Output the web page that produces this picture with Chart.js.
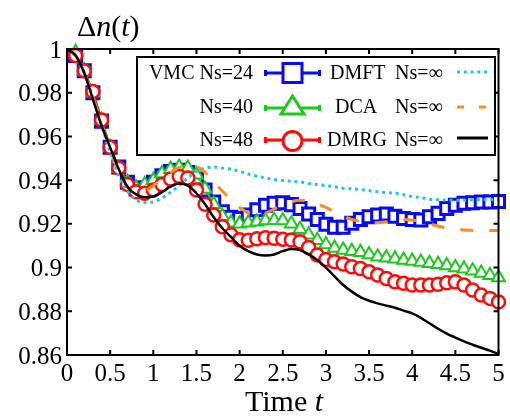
<!DOCTYPE html>
<html>
<head>
<meta charset="utf-8">
<script src="https://cdn.jsdelivr.net/npm/chart.js"></script>
<style>
  body { margin: 0; background: #fff; }
  canvas { display: block; }
</style>
</head>
<body>
<canvas id="myChart" width="510" height="416"></canvas>
<script>
// time grid (every 0.1)
const times = [0, 0.1, 0.2, 0.3, 0.4, 0.5, 0.6, 0.7, 0.8, 0.9, 1.0,
  1.1, 1.2, 1.3, 1.4, 1.5, 1.6, 1.7, 1.8, 1.9, 2.0,
  2.1, 2.2, 2.3, 2.4, 2.5, 2.6, 2.7, 2.8, 2.9, 3.0,
  3.1, 3.2, 3.3, 3.4, 3.5, 3.6, 3.7, 3.8, 3.9, 4.0,
  4.1, 4.2, 4.3, 4.4, 4.5, 4.6, 4.7, 4.8, 4.9, 5.0];

// VMC Ns=24
const vmc24 = [null,
  0.997, 0.990, 0.980, 0.967, 0.955, 0.946, 0.939, 0.936, 0.9365, 0.939,
  0.942, 0.944, 0.9445, 0.9435, 0.9405, 0.9355, 0.930, 0.9255, 0.923, 0.9225,
  0.924, 0.9265, 0.9285, 0.9294, 0.9297, 0.9288, 0.927, 0.9245, 0.922, 0.9198,
  0.9185, 0.9184, 0.9203, 0.922, 0.9232, 0.924, 0.9245, 0.9235, 0.9225, 0.922,
  0.9218, 0.9232, 0.9248, 0.927, 0.9285, 0.9294, 0.9297, 0.930, 0.930, 0.9302];

// VMC Ns=40
const vmc40 = [null,
  0.9985, 0.990, 0.980, 0.9675, 0.955, 0.9455, 0.939, 0.9365, 0.938, 0.940,
  0.943, 0.945, 0.946, 0.9455, 0.9425, 0.936, 0.929, 0.9235, 0.9205, 0.920,
  0.9205, 0.921, 0.9215, 0.9217, 0.9215, 0.920, 0.9175, 0.915, 0.9125, 0.9105,
  0.909, 0.908, 0.9075, 0.907, 0.906, 0.905, 0.9045, 0.904, 0.9035, 0.903,
  0.9025, 0.902, 0.9015, 0.901, 0.900, 0.8995, 0.8985, 0.8975, 0.8965, 0.8955];

// VMC Ns=48
const vmc48 = [null,
  0.997, 0.990, 0.9805, 0.9675, 0.955, 0.9455, 0.938, 0.9347, 0.934, 0.9355,
  0.938, 0.9405, 0.9418, 0.941, 0.9355, 0.929, 0.924, 0.9187, 0.915, 0.9127,
  0.9125, 0.9132, 0.9137, 0.9134, 0.913, 0.9126, 0.9118, 0.9092, 0.9058, 0.9037,
  0.9027, 0.9016, 0.9004, 0.8996, 0.8981, 0.8966, 0.895, 0.8935, 0.8928, 0.892,
  0.892, 0.892, 0.8924, 0.893, 0.8935, 0.892, 0.8897, 0.8874, 0.8859, 0.8843];

// DMFT Ns=inf
const dmft = [1.0, 0.997, 0.989, 0.978, 0.965, 0.953, 0.942, 0.935, 0.931, 0.9297, 0.930,
  0.9318, 0.9345, 0.9375, 0.941, 0.944, 0.9455, 0.946, 0.9455, 0.945, 0.944,
  0.9428, 0.9418, 0.941, 0.9403, 0.9398, 0.9395, 0.9392, 0.9385, 0.938, 0.9375,
  0.937, 0.9363, 0.936, 0.9357, 0.9352, 0.9347, 0.9343, 0.934, 0.9333, 0.9325,
  0.932, 0.9313, 0.931, 0.9308, 0.9308, 0.9308, 0.931, 0.931, 0.9312, 0.9312];

// DCA Ns=inf
const dca = [1.0, 0.997, 0.989, 0.978, 0.966, 0.954, 0.944, 0.937, 0.9345, 0.935, 0.9375,
  0.9405, 0.9435, 0.9458, 0.947, 0.9462, 0.9435, 0.9395, 0.935, 0.931, 0.9275,
  0.925, 0.924, 0.9248, 0.9268, 0.9288, 0.9302, 0.9308, 0.9305, 0.9292, 0.9275,
  0.9255, 0.9235, 0.922, 0.9212, 0.9207, 0.9205, 0.921, 0.9217, 0.922, 0.9218,
  0.921, 0.920, 0.919, 0.918, 0.9175, 0.9172, 0.917, 0.917, 0.917, 0.917];

// DMRG Ns=inf
const dmrg = [1.0, 0.997, 0.989, 0.977, 0.965, 0.955, 0.945, 0.937, 0.9335, 0.9322, 0.9325,
  0.9345, 0.937, 0.9385, 0.9375, 0.934, 0.929, 0.923, 0.918, 0.914, 0.910,
  0.9075, 0.906, 0.9055, 0.906, 0.9075, 0.9085, 0.908, 0.906, 0.9035, 0.900,
  0.896, 0.892, 0.889, 0.8865, 0.8848, 0.8836, 0.8826, 0.8816, 0.8803, 0.879,
  0.877, 0.8745, 0.872, 0.8698, 0.868, 0.8662, 0.8647, 0.8633, 0.862, 0.8605];

const xTicks = [0, 0.5, 1, 1.5, 2, 2.5, 3, 3.5, 4, 4.5, 5];
const xTickLabels = ['0', '0.5', '1', '1.5', '2', '2.5', '3', '3.5', '4', '4.5', '5'];
const yTicks = [0.86, 0.88, 0.9, 0.92, 0.94, 0.96, 0.98, 1];
const yTickLabels = ['0.86', '0.88', '0.9', '0.92', '0.94', '0.96', '0.98', '1'];

const vmcLabels = ['VMC Ns=24', 'Ns=40', 'Ns=48'];
const refLabels = ['DMFT', 'DCA', 'DMRG'];
const infLabel = 'Ns=\u221E';

const BLUE = '#0a0af0', GREEN = '#1ec81e', RED = '#ff0a0a';
const CYAN = '#1ec3f5', ORANGE = '#ff8c1e';
const SERIF = "'Liberation Serif', 'DejaVu Serif', serif";

const pts = ys => ys.map((y, i) => ({ x: times[i], y: y }));

// frame, inward ticks, tick labels, legend and axis titles
const frame = {
  id: 'frame',
  afterDatasetsDraw(chart) {
    const { ctx, chartArea: a, scales: { x, y } } = chart;
    ctx.save();
    ctx.strokeStyle = '#000';
    ctx.lineWidth = 2;
    ctx.strokeRect(a.left, a.top, a.right - a.left, a.bottom - a.top);
    ctx.beginPath();
    xTicks.forEach(v => {
      const px = x.getPixelForValue(v);
      ctx.moveTo(px, a.bottom); ctx.lineTo(px, a.bottom - 5);
      ctx.moveTo(px, a.top); ctx.lineTo(px, a.top + 5);
    });
    yTicks.forEach(v => {
      const py = y.getPixelForValue(v);
      ctx.moveTo(a.left, py); ctx.lineTo(a.left + 5, py);
      ctx.moveTo(a.right, py); ctx.lineTo(a.right - 5, py);
    });
    ctx.stroke();

    // tick labels
    ctx.fillStyle = '#000';
    ctx.font = '25px ' + SERIF;
    ctx.textBaseline = 'alphabetic';
    ctx.textAlign = 'center';
    xTicks.forEach((v, i) => ctx.fillText(xTickLabels[i], x.getPixelForValue(v), 381));
    ctx.textAlign = 'right';
    yTicks.forEach((v, i) => ctx.fillText(yTickLabels[i], a.left - 5, y.getPixelForValue(v) + 8.5));

    // legend box
    ctx.fillStyle = '#fff';
    ctx.fillRect(137, 57, 358, 98);
    ctx.strokeRect(137, 57, 358, 98);

    const rows = [73, 108, 140];
    const base = [79, 113, 146];
    ctx.fillStyle = '#000';
    ctx.font = '20px ' + SERIF;
    ctx.textAlign = 'right';
    vmcLabels.forEach((t, i) => ctx.fillText(t, 253, base[i]));
    ctx.textAlign = 'left';
    const nameX = [330, 335, 327];
    refLabels.forEach((t, i) => {
      ctx.fillText(t, nameX[i], base[i]);
      ctx.fillText(infLabel, 395, base[i]);
    });

    // VMC legend samples
    const cols = [BLUE, GREEN, RED];
    cols.forEach((c, i) => {
      const yy = rows[i];
      ctx.strokeStyle = c;
      ctx.fillStyle = c;
      ctx.lineWidth = 3;
      ctx.beginPath();
      ctx.moveTo(265, yy); ctx.lineTo(320, yy);
      ctx.stroke();
      ctx.fillRect(264, yy - 3, 3, 6);
      ctx.fillRect(318, yy - 3, 3, 6);
      ctx.fillStyle = '#fff';
      ctx.beginPath();
      if (i === 0) {
        ctx.rect(283, yy - 9.5, 19, 19);
      } else if (i === 1) {
        ctx.moveTo(292.5, yy - 12);
        ctx.lineTo(304, yy + 6);
        ctx.lineTo(281, yy + 6);
        ctx.closePath();
      } else {
        ctx.arc(292.5, yy + 1, 9.5, 0, Math.PI * 2);
      }
      ctx.fill();
      ctx.stroke();
    });

    // reference legend samples
    const lineSample = (color, dash, yy) => {
      ctx.strokeStyle = color;
      ctx.lineWidth = 3;
      ctx.setLineDash(dash);
      ctx.beginPath();
      ctx.moveTo(457, yy); ctx.lineTo(488, yy);
      ctx.stroke();
      ctx.setLineDash([]);
    };
    lineSample(CYAN, [3, 3.8], 72);
    lineSample(ORANGE, [7, 15], 107);
    lineSample('#000', [], 138);

    // axis titles
    ctx.fillStyle = '#000';
    ctx.textAlign = 'left';
    const parts = [['\u0394', ''], ['n', 'italic '], ['(', ''], ['t', 'italic '], [')', '']];
    let tx = 77;
    parts.forEach(([s, st]) => {
      ctx.font = st + '30px ' + SERIF;
      ctx.fillText(s, tx, 36);
      tx += ctx.measureText(s).width;
    });
    ctx.font = '30px ' + SERIF;
    const w1 = ctx.measureText('Time ').width;
    ctx.font = 'italic 30px ' + SERIF;
    const w2 = ctx.measureText('t').width;
    const sx = 284 - (w1 + w2) / 2;
    ctx.font = '30px ' + SERIF;
    ctx.fillText('Time ', sx, 411);
    ctx.font = 'italic 30px ' + SERIF;
    ctx.fillText('t', sx + w1, 411);
    ctx.restore();
  }
};

const ctx = document.getElementById('myChart');
new Chart(ctx, {
  type: 'line',
  data: {
    datasets: [
      { label: 'DMRG', data: pts(dmrg), order: 1, borderColor: '#000', borderWidth: 2.5,
        pointRadius: 0, cubicInterpolationMode: 'monotone' },
      { label: 'DCA', data: pts(dca), order: 2, borderColor: ORANGE, borderWidth: 3,
        borderDash: [13, 16], pointRadius: 0, cubicInterpolationMode: 'monotone' },
      { label: 'DMFT', data: pts(dmft), order: 3, borderColor: CYAN, borderWidth: 3,
        borderDash: [3, 3.8], pointRadius: 0, cubicInterpolationMode: 'monotone' },
      { label: 'VMC Ns=48', data: pts(vmc48), order: 4, borderColor: RED, borderWidth: 2,
        pointStyle: 'circle', pointRadius: 6.5, pointBorderWidth: 2.5,
        pointBackgroundColor: '#fff', pointBorderColor: RED, clip: false },
      { label: 'VMC Ns=40', data: pts(vmc40), order: 5, borderColor: GREEN, borderWidth: 2,
        pointStyle: 'triangle', pointRadius: 7.5, pointBorderWidth: 2,
        pointBackgroundColor: '#fff', pointBorderColor: GREEN, clip: false },
      { label: 'VMC Ns=24', data: pts(vmc24), order: 6, borderColor: BLUE, borderWidth: 2,
        pointStyle: 'rect', pointRadius: 8.5, pointBorderWidth: 3,
        pointBackgroundColor: '#fff', pointBorderColor: BLUE, clip: false }
    ]
  },
  options: {
    responsive: false,
    animation: false,
    events: [],
    layout: { padding: { left: 0, right: 6, top: 49, bottom: 0 } },
    scales: {
      x: {
        type: 'linear', min: 0, max: 5,
        afterBuildTicks: s => { s.ticks = xTicks.map(v => ({ value: v })); },
        afterFit: s => { s.height = 61; s.paddingLeft = 0; s.paddingRight = 0; },
        grid: { display: false },
        border: { display: false },
        ticks: { display: false }
      },
      y: {
        min: 0.86, max: 1,
        afterBuildTicks: s => { s.ticks = yTicks.map(v => ({ value: v })); },
        afterFit: s => { s.width = 67; s.paddingTop = 0; s.paddingBottom = 0; },
        grid: { display: false },
        border: { display: false },
        ticks: { display: false }
      }
    },
    plugins: {
      legend: { display: false },
      tooltip: { enabled: false }
    }
  },
  plugins: [frame]
});
</script>
</body>
</html>
